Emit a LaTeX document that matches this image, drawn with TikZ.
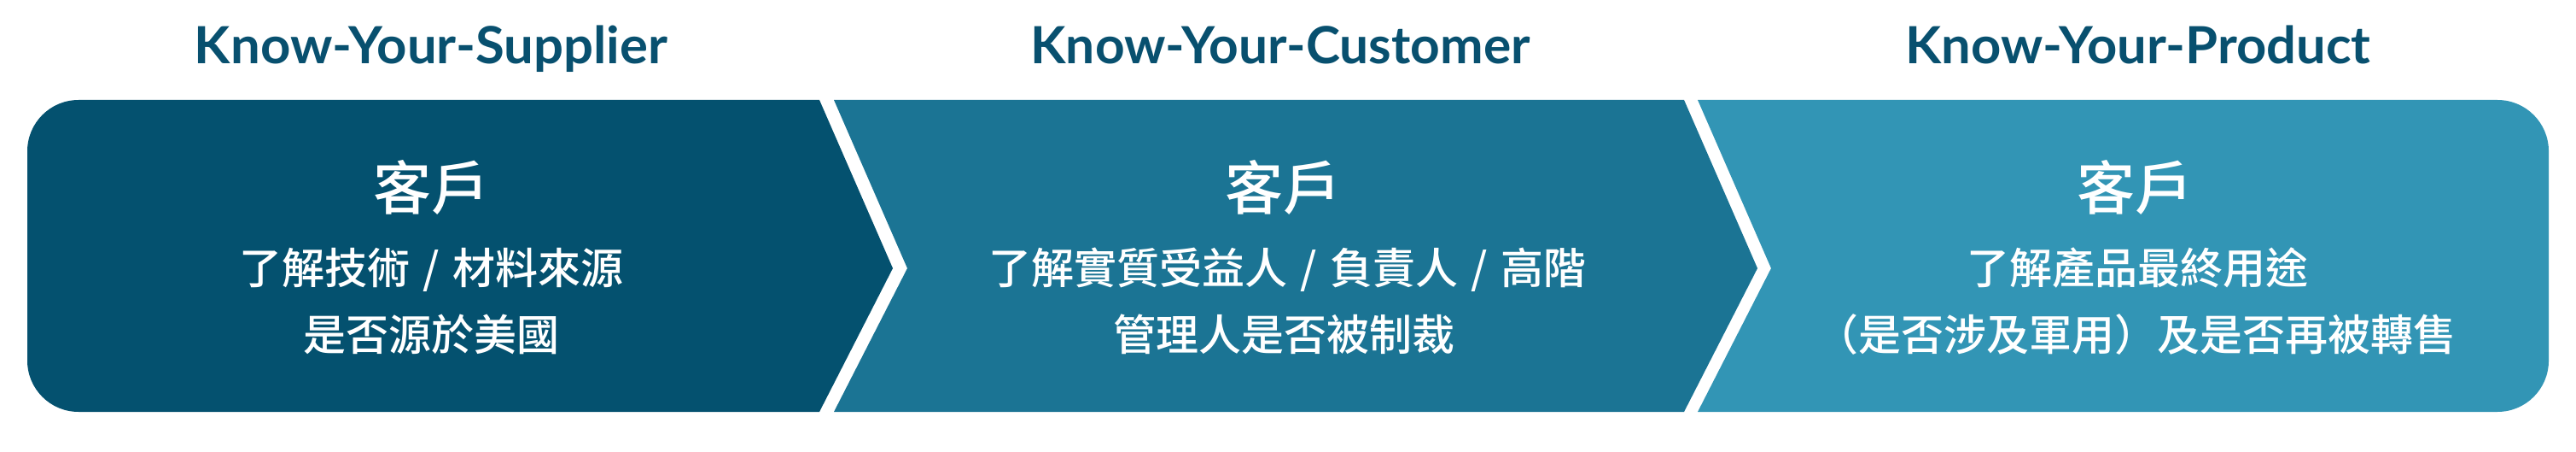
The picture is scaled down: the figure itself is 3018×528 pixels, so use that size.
\documentclass[tikz,border=0pt]{standalone}
\usepackage{fontspec}
\usepackage{graphicx}
\newfontfamily\titlefont{Lato}
\newfontfamily\cjk{Noto Sans CJK TC}[UprightFont=* Medium,BoldFont=* Bold]
\definecolor{cA}{HTML}{04516F}
\definecolor{cB}{HTML}{1B7494}
\definecolor{cC}{HTML}{3295B5}
\definecolor{titlec}{HTML}{08506F}
\newcommand\slashsep{\makebox[1em]{/}}
\begin{document}
\begin{tikzpicture}[x=1pt,y=1pt,
  title/.style={anchor=base,inner sep=0pt,text=titlec,font=\titlefont\bfseries\fontsize{60}{60}\selectfont},
  head/.style={anchor=base,inner sep=0pt,text=white,font=\cjk\fontsize{68}{68}\selectfont},
  body/.style={anchor=base,inner sep=0pt,text=white,font=\cjk\fontsize{50}{50}\selectfont}]
\useasboundingbox[fill=white] (0,0) rectangle (3018,528);
% shapes
\fill[cA] (960,411) -- (92,411) arc[start angle=90,end angle=180,radius=60pt]
  -- (32,106) arc[start angle=180,end angle=270,radius=60pt]
  -- (960,46) -- (1046,214) -- cycle;
\fill[cB] (977,411) -- (1973,411) -- (2059,214) -- (1973,46) -- (977,46) -- (1063,214) -- cycle;
\fill[cC] (1989,411) -- (2926,411) arc[start angle=90,end angle=0,radius=60pt]
  -- (2986,106) arc[start angle=0,end angle=-90,radius=60pt]
  -- (1989,46) -- (2075,214) -- cycle;
% titles
\node[title] (t1) at (505,453) {\resizebox{554pt}{\height}{Know-Your-Supplier}};
\node[title] (t2) at (1500,453) {\resizebox{585pt}{\height}{Know-Your-Customer}};
\node[title] (t3) at (2505,453) {\resizebox{545pt}{\height}{Know-Your-Product}};
% texts
\node[head] (h1) at (505,282) {客戶};
\node[body] (a1) at (505,196) {了解技術\slashsep 材料來源};
\node[body] (b1) at (505,118) {是否源於美國};
\node[head] (h2) at (1503,282) {客戶};
\node[body] (a2) at (1508,196) {了解實質受益人\slashsep 負責人\slashsep 高階};
\node[body] (b2) at (1504,118) {管理人是否被制裁};
\node[head] (h3) at (2501,282) {客戶};
\node[body] (a3) at (2504,196) {了解產品最終用途};
\node[body] (b3) at (2502,118) {（是否涉及軍用）及是否再被轉售};
\end{tikzpicture}
\end{document}
